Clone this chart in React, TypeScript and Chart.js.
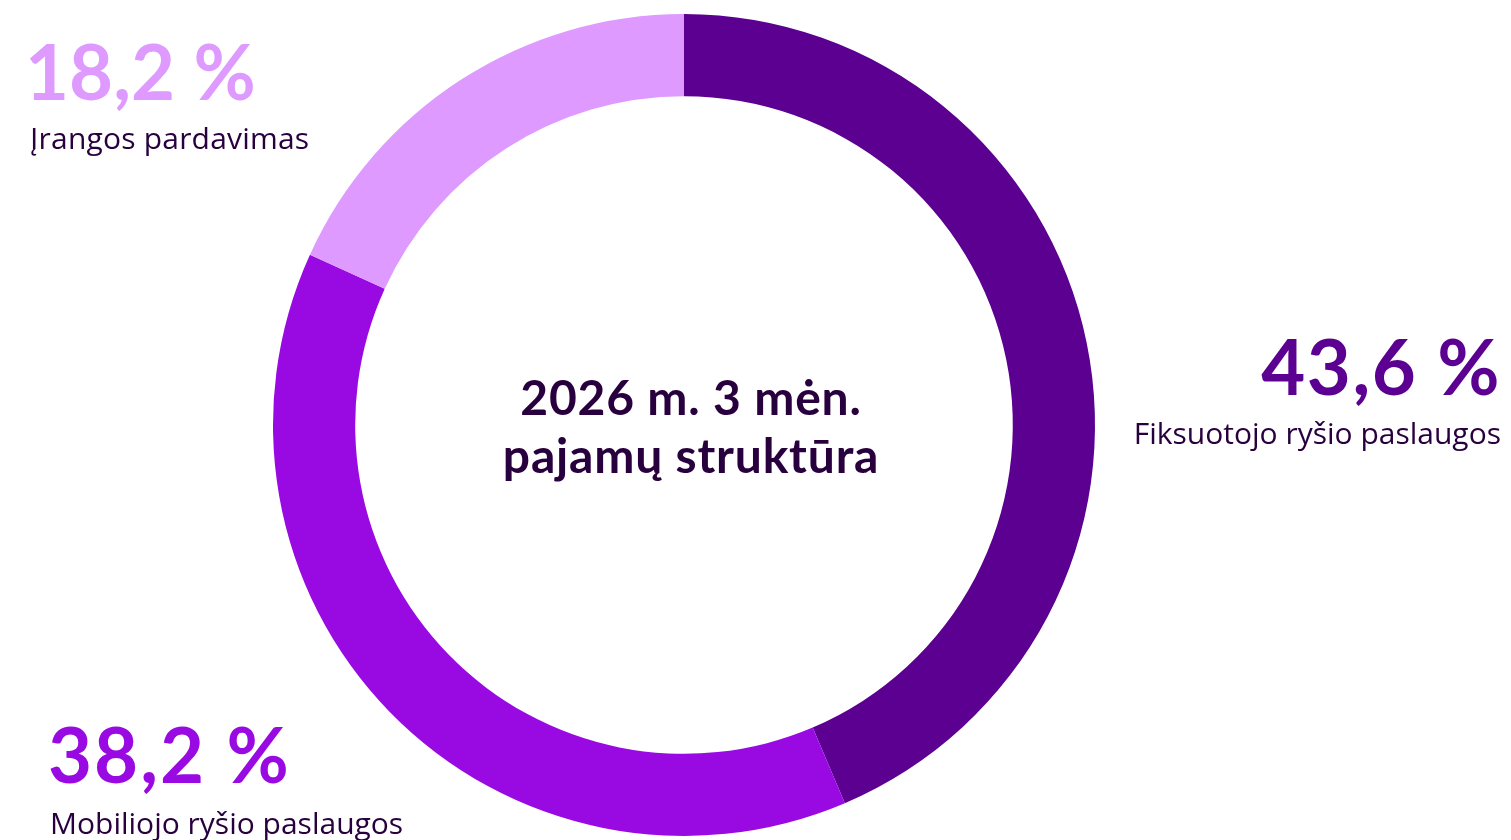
import React, { useEffect, useRef } from "react";
import { Chart, registerables } from "chart.js";

Chart.register(...registerables);

const categories = ["Fiksuotojo ryšio paslaugos", "Mobiliojo ryšio paslaugos", "Įrangos pardavimas"];
const shares = [43.6, 38.2, 18.2];
const shareLabels = ["43,6 %", "38,2 %", "18,2 %"];
const colors = ["#5c0092", "#990ae3", "#de9aff"];
const centerTitle = ["2026 m. 3 mėn.", "pajamų struktūra"];

const FONT = "Lato, 'Noto Sans', sans-serif";
const LABEL_FONT = "'Open Sans', Lato, sans-serif";
const TEXT = "#29003e";

export default function App() {
  const ref = useRef<HTMLCanvasElement | null>(null);
  useEffect(() => {
    if (!ref.current) return;
    const chart = new Chart(ref.current, {
      type: "doughnut",
      data: {
        labels: categories,
        datasets: [
          {
            data: shares,
            backgroundColor: colors,
            borderWidth: 0,
          },
        ],
      },
      options: {
        responsive: false,
        animation: false,
        cutout: "80%",
        layout: { padding: { left: 272, right: 415, top: 14, bottom: 4 } },
        plugins: { legend: { display: false }, tooltip: { enabled: false } },
      },
    });
    return () => chart.destroy();
  }, []);

  const big: React.CSSProperties = {
    position: "absolute",
    fontFamily: FONT,
    fontWeight: 700,
    fontSize: 76,
    lineHeight: "76px",
    letterSpacing: 1,
    whiteSpace: "nowrap",
    margin: 0,
  };
  const small: React.CSSProperties = {
    position: "absolute",
    fontFamily: LABEL_FONT,
    fontWeight: 400,
    fontSize: 30,
    lineHeight: "30px",
    color: TEXT,
    whiteSpace: "nowrap",
  };

  return (
    <div style={{ position: "absolute", left: 0, top: 0, width: 1511, height: 840, background: "#fff", overflow: "hidden" }}>
      <canvas ref={ref} width={1511} height={840} style={{ position: "absolute", left: 0, top: 0, width: 1511, height: 840 }} />
      <div style={{ ...big, left: 25, top: 33, letterSpacing: 0, color: colors[2] }}>{shareLabels[2]}</div>
      <div style={{ ...small, left: 30, top: 123, letterSpacing: 0.2 }}>{categories[2]}</div>
      <div style={{ ...big, right: 10, top: 328, letterSpacing: 1.5, color: colors[0] }}>{shareLabels[0]}</div>
      <div style={{ ...small, right: 10, top: 418 }}>{categories[0]}</div>
      <div style={{ ...big, left: 48, top: 716, letterSpacing: 2, color: colors[1] }}>{shareLabels[1]}</div>
      <div style={{ ...small, left: 50, top: 808 }}>{categories[1]}</div>
      <div
        style={{
          position: "absolute",
          left: 441,
          width: 500,
          top: 368,
          textAlign: "center",
          fontFamily: FONT,
          fontWeight: 700,
          fontSize: 48,
          lineHeight: "58px",
          letterSpacing: 0.8,
          color: TEXT,
        }}
      >
        <div>{centerTitle[0]}</div>
        <div>{centerTitle[1]}</div>
      </div>
    </div>
  );
}
